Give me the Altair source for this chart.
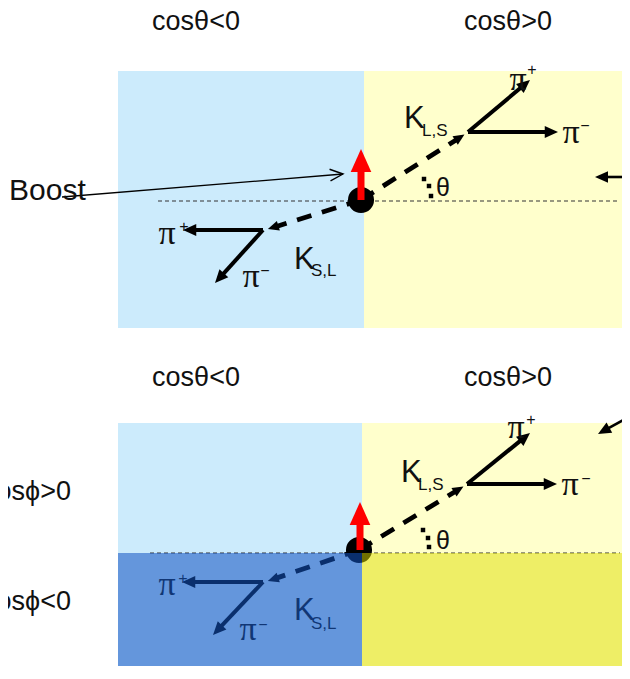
import math
import pandas as pd
import altair as alt

W, H = 614, 658
X0, Y0 = 8, 8
XS = alt.Scale(domain=[X0, X0 + W], range=[0, W], nice=False, zero=False)
YS = alt.Scale(domain=[Y0, Y0 + H], range=[0, H], nice=False, zero=False)

# ---------------- data ----------------
# background boxes
box_x0 = [118, 364, 118, 362]
box_x1 = [364, 630, 362, 630]
box_y0 = [71, 71, 423, 423]
box_y1 = [328, 328, 678, 678]
box_col = ["#CCEBFC", "#FFFFCC", "#CCEBFC", "#FFFFCC"]

# translucent cos(phi)<0 overlays
ov_x0 = [118, 362]
ov_x1 = [362, 630]
ov_y0 = [553, 553]
ov_y1 = [678, 678]
ov_col = ["#1253C3", "#DDDD00"]
ov_op = [0.56, 0.5]

# thin dashed baselines
base_x0 = [158, 150]
base_x1 = [620, 620]
base_y = [201, 553]

# interaction point dots
dot_x = [361, 359]
dot_y = [200, 550]

# red boost arrows
red_x = [361, 360]
red_y0 = [200, 550]
red_y1 = [149, 502]

# K flight lines (dot -> decay vertex)
k_x0 = [361, 361, 359, 359]
k_y0 = [200, 200, 550, 550]
k_x1 = [467, 265, 466, 265]
k_y1 = [133, 230, 485, 582]

# pion arrows (vertex -> tip)
pi_x0 = [468, 468, 263, 263, 467, 467, 263, 263]
pi_y0 = [132, 132, 230, 230, 484, 484, 582, 582]
pi_x1 = [530, 558, 183, 215, 530, 557, 182, 213]
pi_y1 = [80, 132, 230, 283, 433, 484, 582, 635]

# side arrows
side_x0 = [632, 634]
side_y0 = [177, 414]
side_x1 = [595, 598]
side_y1 = [177, 434]

# boost pointer
bp_x0, bp_y0, bp_x1, bp_y1 = [62], [197], [343], [174]

# theta dots
th_x = [424, 429, 431, 423, 428, 429]
th_y = [179, 186, 196, 530, 538, 547]

# texts
hdr_text = ["cosθ<0", "cosθ>0", "cosθ<0", "cosθ>0"]
hdr_x = [196, 508, 196, 508]
hdr_y = [22, 22, 378, 378]

phi_text = ["cosϕ>0", "cosϕ<0"]
phi_x = [71, 71]
phi_y = [492, 602]

theta_x = [443, 443]
theta_y = [188, 541]

k_text = ["K", "K", "K", "K"]
k_tx = [404, 401, 294, 294]
k_ty = [119, 473, 260, 611]
sub_text = ["L,S", "L,S", "S,L", "S,L"]
sub_x = [422, 418, 311, 311]
sub_y = [131, 485, 271, 624]

pi_lx = [518, 571, 167, 251, 516, 570, 167, 248]
pi_ly = [80, 133, 234, 277, 428, 485, 585, 630]
sup_text = ["+", "−", "+", "−", "+", "−", "+", "−"]
sup_x = [532, 585, 184, 265, 531, 586, 183, 263]
sup_y = [70, 126, 227, 271, 420, 479, 579, 625]

HEAD = "M0,0L-0.45,1L0.45,1Z"
OPEN = "M-0.45,1L0,0L0.45,1"


def ang(x0, y0, x1, y1):
    return math.degrees(math.atan2(x1 - x0, -(y1 - y0))) % 360


def shorten(x0, y0, x1, y1, d):
    L = math.hypot(x1 - x0, y1 - y0)
    return x1 - (x1 - x0) / L * d, y1 - (y1 - y0) / L * d


def enc_xy(ch, xf="x", yf="y"):
    return ch.encode(x=alt.X(f"{xf}:Q", scale=XS, axis=None),
                     y=alt.Y(f"{yf}:Q", scale=YS, axis=None))


def rules(rows, dash=None, cap="butt"):
    df = pd.DataFrame(rows, columns=["x0", "y0", "x1", "y1", "c", "w"])
    kw = {"strokeCap": cap}
    if dash:
        kw["strokeDash"] = dash
    return alt.Chart(df).mark_rule(**kw).encode(
        x=alt.X("x0:Q", scale=XS, axis=None),
        y=alt.Y("y0:Q", scale=YS, axis=None),
        x2="x1:Q", y2="y1:Q",
        color=alt.Color("c:N", scale=None),
        strokeWidth=alt.StrokeWidth("w:Q", scale=None),
    )


def heads(rows, shape=HEAD, filled=True, sw=0):
    df = pd.DataFrame(rows, columns=["x", "y", "a", "s", "c"])
    return alt.Chart(df).mark_point(shape=shape, filled=filled, opacity=1,
                                    strokeWidth=sw).encode(
        x=alt.X("x:Q", scale=XS, axis=None),
        y=alt.Y("y:Q", scale=YS, axis=None),
        angle=alt.Angle("a:Q", scale=None),
        size=alt.Size("s:Q", scale=None),
        color=alt.Color("c:N", scale=None),
    )


def texts(t, xs, ys, size, align="center", font="Liberation Sans", color="#111111"):
    df = pd.DataFrame({"t": t, "x": xs, "y": ys})
    return alt.Chart(df).mark_text(align=align, baseline="middle", font=font,
                                   fontSize=size, color=color).encode(
        x=alt.X("x:Q", scale=XS, axis=None),
        y=alt.Y("y:Q", scale=YS, axis=None),
        text="t:N",
    )


def rects(x0, x1, y0, y1, col, op):
    df = pd.DataFrame({"x0": x0, "x1": x1, "y0": y0, "y1": y1, "c": col, "o": op})
    return alt.Chart(df).mark_rect().encode(
        x=alt.X("x0:Q", scale=XS, axis=None), x2="x1:Q",
        y=alt.Y("y0:Q", scale=YS, axis=None), y2="y1:Q",
        color=alt.Color("c:N", scale=None),
        opacity=alt.Opacity("o:Q", scale=None),
    )


layers = []
layers.append(rects(box_x0, box_x1, box_y0, box_y1, box_col, [1] * 4))

# thin dashed baselines
layers.append(rules([(a, y, b, y, "#333333", 1.2) for a, b, y in zip(base_x0, base_x1, base_y)],
                    dash=[4, 3]))

# K flight dashed lines + arrowheads
kl, kh = [], []
for a, b, c, d in zip(k_x0, k_y0, k_x1, k_y1):
    tx, ty = shorten(a, b, c, d, 3)
    ex, ey = shorten(a, b, c, d, 12)
    kl.append((a, b, ex, ey, "black", 4.8))
    kh.append((tx, ty, ang(a, b, c, d), 484, "black"))
layers.append(rules(kl, dash=[15, 11]))
layers.append(heads(kh))

# pion arrows
pl, ph = [], []
for a, b, c, d in zip(pi_x0, pi_y0, pi_x1, pi_y1):
    ex, ey = shorten(a, b, c, d, 9)
    pl.append((a, b, ex, ey, "black", 4))
    ph.append((c, d, ang(a, b, c, d), 700, "black"))
layers.append(rules(pl))
layers.append(heads(ph))

# side arrows
sl, sh = [], []
for a, b, c, d in zip(side_x0, side_y0, side_x1, side_y1):
    ex, ey = shorten(a, b, c, d, 9)
    sl.append((a, b, ex, ey, "black", 2.6))
    sh.append((c, d, ang(a, b, c, d), 676, "black"))
layers.append(rules(sl))
layers.append(heads(sh))

# boost pointer
layers.append(rules([(bp_x0[0], bp_y0[0], bp_x1[0], bp_y1[0], "black", 1.3)]))
layers.append(heads([(bp_x1[0], bp_y1[0], ang(bp_x0[0], bp_y0[0], bp_x1[0], bp_y1[0]), 676, "black")],
                    shape=OPEN, filled=False, sw=1.4))

# theta dotted arcs
layers.append(enc_xy(alt.Chart(pd.DataFrame({"x": th_x, "y": th_y})).mark_square(
    size=20, opacity=1, color="black")))

# dots
layers.append(enc_xy(alt.Chart(pd.DataFrame({"x": dot_x, "y": dot_y})).mark_circle(
    size=680, opacity=1, color="black")))

# red arrows
rl, rh = [], []
for a, b, c in zip(red_x, red_y0, red_y1):
    rl.append((a, b, a, c + 20, "#FF0000", 7))
    rh.append((a, c, 0, 2100, "#FF0000"))
layers.append(rules(rl))
layers.append(heads(rh))

# texts
layers.append(texts(hdr_text, hdr_x, hdr_y, 27))
layers.append(texts(["Boost"], [9], [191], 30, align="left"))
layers.append(texts(phi_text, phi_x, phi_y, 27, align="right"))
layers.append(texts(["θ", "θ"], theta_x, theta_y, 25))
layers.append(texts(k_text, k_tx, k_ty, 31, align="left"))
layers.append(texts(sub_text, sub_x, sub_y, 17, align="left"))
layers.append(texts(["π"] * 8, pi_lx, pi_ly, 34, font="Liberation Serif"))
layers.append(texts(sup_text, sup_x, sup_y, 16))

# overlays
layers.append(rects(ov_x0, ov_x1, ov_y0, ov_y1, ov_col, ov_op))

chart = alt.layer(*layers).properties(
    width=W, height=H, padding=0,
    autosize=alt.AutoSizeParams(type="none"),
).configure_view(stroke=None)

chart.save("out.html", embed_options={"renderer": "svg", "actions": False})
